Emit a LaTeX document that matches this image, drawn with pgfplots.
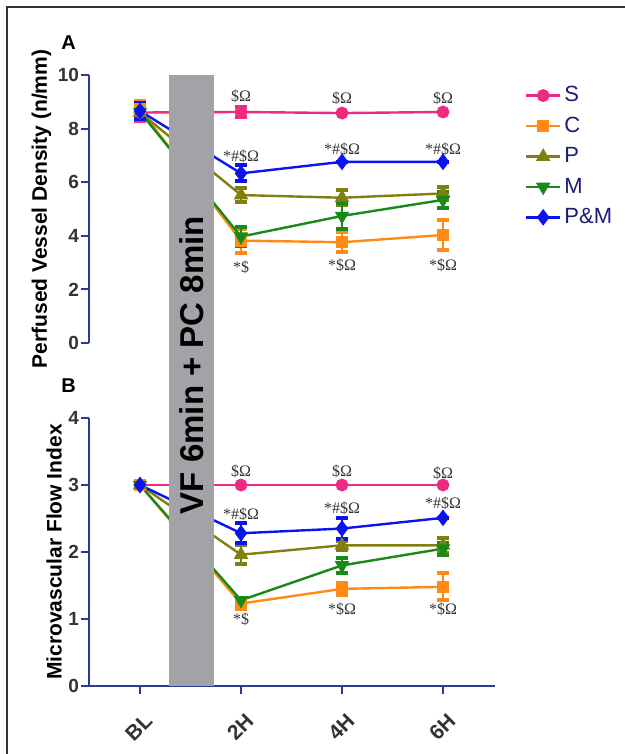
\documentclass[border=0pt]{standalone}
\usepackage{pgfplots}
\pgfplotsset{compat=1.18}
\usepackage{fontspec}
\setmainfont{Liberation Sans}
\newfontfamily\annot{Liberation Serif}
\definecolor{cS}{HTML}{EE2A82}
\definecolor{cC}{HTML}{FF8A14}
\definecolor{cP}{HTML}{808010}
\definecolor{cM}{HTML}{178A17}
\definecolor{cPM}{HTML}{0A14F0}
\definecolor{axcol}{HTML}{2E3A8C}
\definecolor{barcol}{HTML}{A3A3A7}
\definecolor{legcol}{HTML}{1C1C78}
\definecolor{tickcol}{HTML}{333333}

\pgfplotstableread{
x y e
0 8.60 0.30
1 8.62 0.20
2 8.58 0
3 8.62 0
}\AS
\pgfplotstableread{
x y e
0 8.72 0.30
1 3.82 0.45
2 3.76 0.38
3 4.03 0.55
}\AC
\pgfplotstableread{
x y e
0 8.60 0.25
1 5.52 0.25
2 5.42 0.28
3 5.58 0.25
}\AP
\pgfplotstableread{
x y e
0 8.62 0.25
1 3.97 0.35
2 4.74 0.50
3 5.34 0.30
}\AM
\pgfplotstableread{
x y e
0 8.66 0.30
1 6.33 0.30
2 6.76 0
3 6.76 0
}\APM

\pgfplotstableread{
x y e
0 3.00 0
1 3.00 0
2 3.00 0
3 3.00 0
}\BS
\pgfplotstableread{
x y e
0 3.00 0
1 1.23 0.08
2 1.45 0.09
3 1.48 0.20
}\BC
\pgfplotstableread{
x y e
0 3.00 0
1 1.96 0.14
2 2.10 0.07
3 2.10 0.11
}\BP
\pgfplotstableread{
x y e
0 3.00 0
1 1.28 0.04
2 1.80 0.11
3 2.05 0.09
}\BM
\pgfplotstableread{
x y e
0 3.00 0
1 2.28 0.15
2 2.35 0.16
3 2.51 0
}\BPM

\pgfplotsset{
  myaxis/.style={
    scale only axis, width=203pt, height=134pt,
    xmin=-0.505, xmax=3.515,
    axis y line*=left,
    axis line style={draw=axcol, line width=1pt},
    every tick/.style={draw=axcol, line width=1pt},
    tick align=outside, major tick length=4pt,
    /pgf/number format/assume math mode=true,
    yticklabel style={font=\bfseries\fontsize{9.5}{10}\selectfont, text=tickcol, inner sep=0.8pt},
    ylabel style={font=\bfseries\fontsize{10.5}{12}\selectfont},
    ylabel shift=-1pt,
    clip=false,
  },
  eb/.style={error bars/.cd, y dir=both, y explicit,
    error bar style={line width=1.4pt},
    error mark options={rotate=90, mark size=3pt, line width=2pt}},
  sS/.style={color=cS, line width=1.2pt, mark=*, mark size=2.6pt, mark options={solid, fill=cS, draw=cS}},
  sC/.style={color=cC, line width=1.2pt, mark=square*, mark size=2.4pt, mark options={solid, fill=cC, draw=cC}},
  sP/.style={color=cP, line width=1.2pt, mark=triangle*, mark size=3pt, mark options={solid, fill=cP, draw=cP}},
  sM/.style={color=cM, line width=1.2pt, mark=triangle*, mark size=3pt, mark options={solid, fill=cM, draw=cM, rotate=180}},
  sPM/.style={color=cPM, line width=1.2pt, mark=diamond*, mark size=3.2pt, mark options={solid, fill=cPM, draw=cPM}},
}
\newcommand{\ann}[3]{\node[font=\annot\fontsize{8}{9}\selectfont, text=tickcol] at (axis cs:#1,#2) {#3};}

\begin{document}
\begin{tikzpicture}
\useasboundingbox (0,0) rectangle (312.5pt,-377pt);
\draw[line width=1pt, draw=black!80] (3.5pt,-380pt) -- (3.5pt,-3.5pt) -- (316pt,-3.5pt);

\begin{axis}[myaxis, name=A, at={(44.5pt,-171.5pt)}, anchor=south west,
  axis x line=none,
  ymin=0, ymax=10, ytick={0,2,4,6,8,10},
  ylabel={Perfused Vessel Density (n/mm)},
  legend style={at={(1.058,0.985)}, anchor=north west, draw=none, fill=none,
    font=\fontsize{11}{12}\selectfont, text=legcol, row sep=3.1pt,
    nodes={inner sep=1.5pt}},
  legend cell align=left,
]
\addplot[sS, eb] table[x=x,y=y,y error=e] {\AS};
\addplot[sC, eb] table[x=x,y=y,y error=e] {\AC};
\addplot[sP, eb] table[x=x,y=y,y error=e] {\AP};
\addplot[sM, eb] table[x=x,y=y,y error=e] {\AM};
\addplot[sPM, eb] table[x=x,y=y,y error=e] {\APM};
\legend{S,C,P,M,P\&M}
\ann{1}{9.2}{\$Ω}
\ann{2}{9.13}{\$Ω}
\ann{3}{9.13}{\$Ω}
\ann{1}{6.95}{*\#\$Ω}
\ann{2}{7.23}{*\#\$Ω}
\ann{3}{7.23}{*\#\$Ω}
\ann{1}{2.83}{*\$}
\ann{2}{2.91}{*\$Ω}
\ann{3}{2.91}{*\$Ω}
\node[font=\bfseries\fontsize{10}{12}\selectfont] at (rel axis cs:-0.05,1.12) {A};
\end{axis}

\begin{axis}[myaxis, name=B, at={(44.5pt,-343pt)}, anchor=south west,
  axis x line*=bottom,
  ymin=0, ymax=4, ytick={0,1,2,3,4},
  xtick={0,1,2,3}, xticklabels={BL,2H,4H,6H},
  xticklabel style={rotate=45, anchor=north east, font=\bfseries\fontsize{10.5}{11}\selectfont, text=tickcol, inner sep=1pt, xshift=-4pt, yshift=-6.5pt},
  ylabel={Microvascular Flow Index},
]
\addplot[sS, eb] table[x=x,y=y,y error=e] {\BS};
\addplot[sC, eb] table[x=x,y=y,y error=e] {\BC};
\addplot[sP, eb] table[x=x,y=y,y error=e] {\BP};
\addplot[sM, eb] table[x=x,y=y,y error=e] {\BM};
\addplot[sPM, eb] table[x=x,y=y,y error=e] {\BPM};
\ann{1}{3.21}{\$Ω}
\ann{2}{3.21}{\$Ω}
\ann{3}{3.18}{\$Ω}
\ann{1}{2.57}{*\#\$Ω}
\ann{2}{2.65}{*\#\$Ω}
\ann{3}{2.72}{*\#\$Ω}
\ann{1}{0.99}{*\$}
\ann{2}{1.14}{*\$Ω}
\ann{3}{1.14}{*\$Ω}
\fill[barcol] (axis cs:0.287,0) rectangle (axis cs:0.733,9.119);
\node[rotate=90, font=\bfseries\fontsize{16.5}{17}\selectfont] at (axis cs:0.51,4.79) {VF 6min + PC 8min};
\node[font=\bfseries\fontsize{10}{12}\selectfont] at (rel axis cs:-0.05,1.12) {B};
\end{axis}
\end{tikzpicture}
\end{document}
